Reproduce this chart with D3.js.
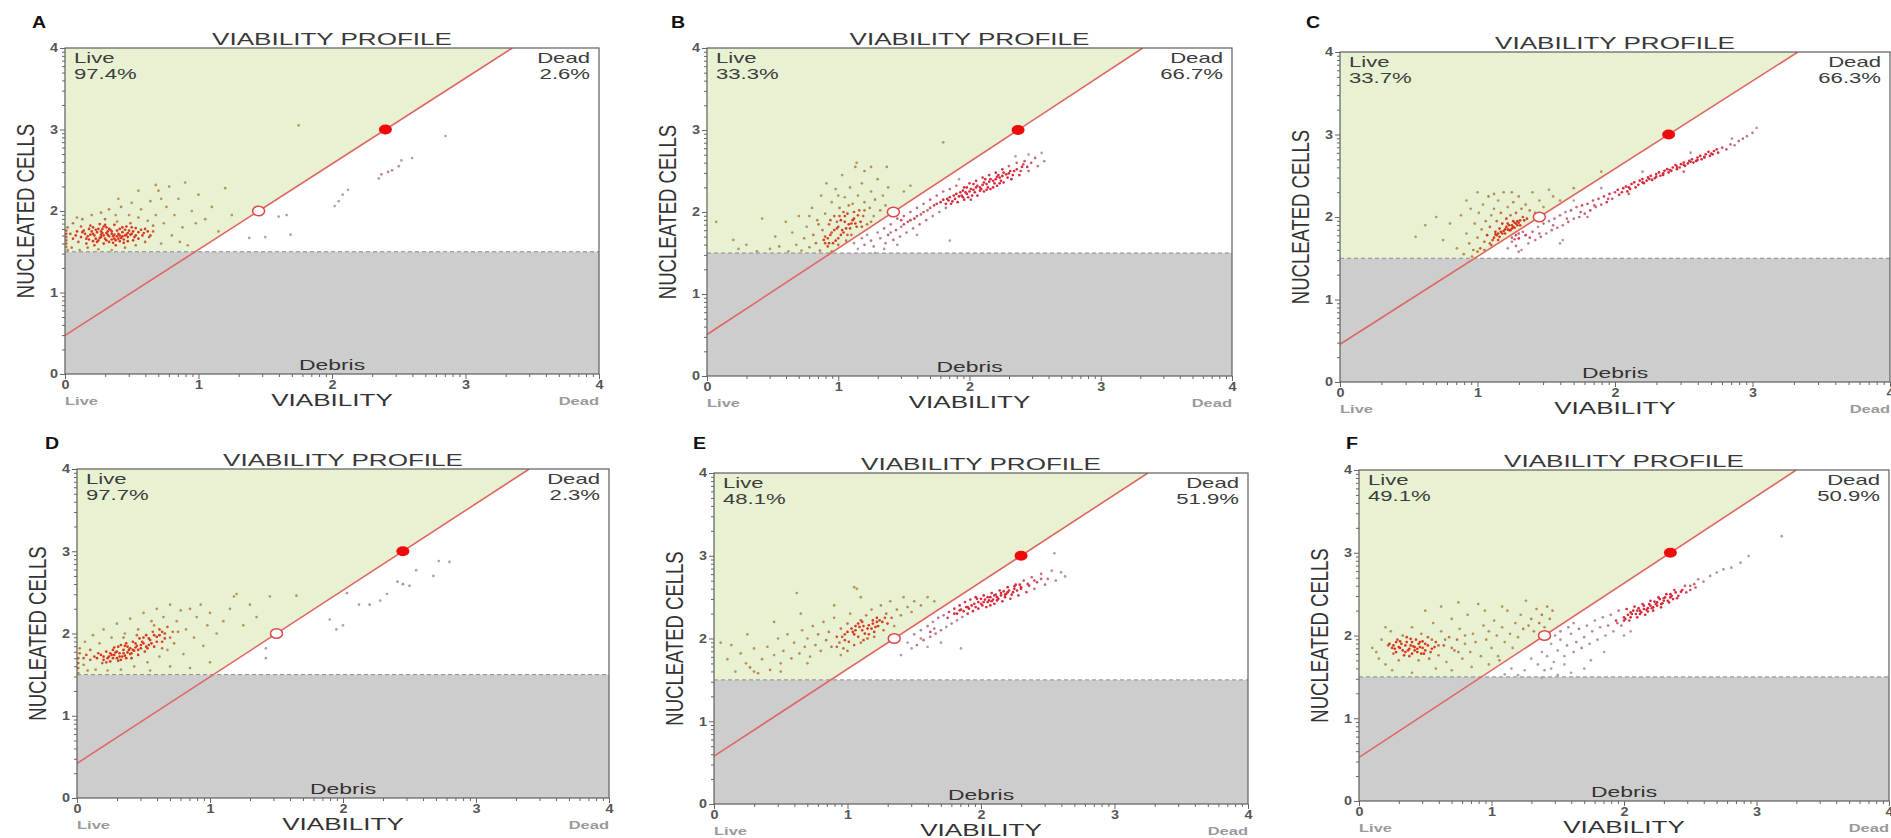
<!DOCTYPE html>
<html>
<head>
<meta charset="utf-8">
<script src="https://cdn.jsdelivr.net/npm/d3@7"></script>
<style>
  body { margin: 0; background: #fff; }
  svg { display: block; font-family: "Liberation Sans", Arial, sans-serif; }
</style>
</head>
<body>
<svg id="chart" width="1891" height="838"></svg>
<script>
// ---- Events: [viability, nucleated cells] (log10 units) ----
const liveA = [[0.12,1.68],[0.15,1.72],[0.18,1.65],[0.2,1.75],[0.22,1.7],[0.24,1.62],[0.25,1.78],[0.27,1.68],[0.28,1.73],[0.3,1.66],[0.31,1.8],[0.32,1.71],[0.33,1.62],[0.35,1.75],[0.36,1.69],[0.37,1.83],[0.38,1.64],[0.4,1.72],[0.41,1.78],[0.42,1.67],[0.43,1.74],[0.45,1.7],[0.46,1.81],[0.47,1.63],[0.48,1.76],[0.5,1.72],[0.52,1.68],[0.53,1.79],[0.55,1.74],[0.34,1.77],[0.29,1.6],[0.26,1.84],[0.39,1.87],[0.44,1.65],[0.21,1.8],[0.16,1.6],[0.49,1.85],[0.58,1.7],[0.6,1.78],[0.19,1.71],[0.23,1.66],[0.36,1.61],[0.4,1.66],[0.32,1.75],[0.28,1.78],[0.46,1.71],[0.51,1.64],[0.14,1.76],[0.1,1.62],[0.08,1.7],[0.17,1.69],[0.21,1.63],[0.24,1.74],[0.26,1.67],[0.29,1.7],[0.31,1.64],[0.33,1.69],[0.35,1.72],[0.37,1.66],[0.39,1.76],[0.41,1.7],[0.43,1.8],[0.44,1.61],[0.47,1.73],[0.3,1.83],[0.22,1.58],[0.18,1.78],[0.38,1.58],[0.5,1.8],[0.27,1.75],[0.13,1.74],[0.16,1.66],[0.19,1.82],[0.21,1.72],[0.23,1.77],[0.25,1.64],[0.27,1.71],[0.29,1.81],[0.31,1.73],[0.33,1.78],[0.35,1.65],[0.37,1.71],[0.39,1.69],[0.41,1.63],[0.43,1.69],[0.45,1.77],[0.47,1.68],[0.49,1.71],[0.51,1.75],[0.53,1.7],[0.55,1.66],[0.57,1.77],[0.59,1.73],[0.62,1.75],[0.64,1.7],[0.66,1.82],[0.12,1.81],[0.09,1.75],[0.06,1.66],[0.04,1.72],[0.01,1.56],[0.01,1.6],[0.01,1.64],[0.01,1.68],[0.01,1.72],[0.01,1.76],[0.02,1.8],[0.02,1.52],[0.05,1.55],[0.06,1.85],[0.09,1.92],[0.11,1.52],[0.13,1.9],[0.17,1.55],[0.2,1.95],[0.25,1.53],[0.27,1.98],[0.3,1.9],[0.33,2.02],[0.35,1.52],[0.38,1.95],[0.42,2.05],[0.45,1.55],[0.48,1.95],[0.5,2.1],[0.53,1.58],[0.55,1.92],[0.57,2.02],[0.6,1.62],[0.62,1.88],[0.64,2.12],[0.66,1.75],[0.68,1.95],[0.7,2.25],[0.72,1.6],[0.74,1.85],[0.76,2.05],[0.78,2.3],[0.8,1.7],[0.82,1.95],[0.85,2.15],[0.88,1.8],[0.9,2.35],[0.92,1.58],[0.95,2.0],[0.98,1.85],[1.0,2.2],[1.05,1.9],[1.1,2.05],[1.15,1.75],[1.2,2.28],[1.25,1.95],[0.72,2.15],[0.63,1.68],[0.86,1.62],[0.55,2.25],[0.4,2.15],[0.68,2.32],[1.75,3.05]];
const deadA = [[1.38,1.67],[1.5,1.68],[1.6,1.93],[1.66,1.95],[1.69,1.71],[2.02,2.06],[2.05,2.12],[2.08,2.2],[2.12,2.26],[2.35,2.4],[2.37,2.45],[2.42,2.48],[2.45,2.5],[2.5,2.55],[2.52,2.62],[2.6,2.65],[2.85,2.92]];

const liveB = [[0.07,1.88],[0.2,1.66],[0.24,1.55],[0.3,1.6],[0.38,1.52],[0.42,1.92],[0.48,1.55],[0.52,1.7],[0.55,1.58],[0.6,1.88],[0.62,1.52],[0.65,1.75],[0.68,1.6],[0.7,1.95],[0.72,1.53],[0.74,1.68],[0.76,1.82],[0.78,1.57],[0.8,2.05],[0.81,1.72],[0.83,1.62],[0.84,1.9],[0.86,1.53],[0.87,2.2],[0.88,1.78],[0.89,1.66],[0.9,1.98],[0.91,2.35],[0.92,1.58],[0.93,1.85],[0.94,1.72],[0.95,2.12],[0.96,1.62],[0.97,1.95],[0.98,2.28],[0.99,1.8],[1.0,1.68],[1.01,2.05],[1.02,1.9],[1.03,2.45],[1.04,1.75],[1.05,2.18],[1.06,1.65],[1.07,1.98],[1.08,1.85],[1.09,2.3],[1.1,1.72],[1.11,2.1],[1.12,1.92],[1.13,2.55],[1.14,1.82],[1.15,2.2],[1.16,2.02],[1.17,1.88],[1.18,2.35],[1.19,1.95],[1.2,2.12],[1.22,1.85],[1.24,2.05],[1.25,2.25],[1.27,1.95],[1.28,2.15],[1.3,2.4],[1.32,2.02],[1.34,2.2],[1.36,2.08],[1.38,2.3],[1.14,2.6],[1.2,2.5],[1.25,2.55],[1.37,2.55],[1.5,2.25],[1.55,2.32],[1.8,2.85],[0.95,1.52],[1.0,1.6],[0.9,1.7],[0.85,1.85],[0.97,1.78],[1.02,1.72],[1.06,1.8],[1.1,1.86],[1.12,2.0],[1.05,1.95],[0.99,1.88],[0.93,1.62],[1.08,2.08],[1.15,1.96],[1.2,2.02],[1.0,2.2],[0.78,1.95],[1.25,1.88],[1.18,1.82],[0.92,1.68],[0.95,1.75],[0.98,1.65],[1.0,1.82],[1.03,1.78],[1.05,1.88],[1.07,1.72],[1.09,1.8],[1.11,1.9],[1.13,1.86],[0.9,1.62],[0.94,1.9],[1.01,1.95],[1.04,2.0]];
const deadB = [[1.12,1.62],[1.15,1.55],[1.18,1.68],[1.2,1.6],[1.22,1.72],[1.25,1.65],[1.27,1.58],[1.3,1.75],[1.32,1.68],[1.35,1.8],[1.36,1.62],[1.38,1.72],[1.4,1.85],[1.42,1.66],[1.44,1.78],[1.45,1.92],[1.47,1.7],[1.48,1.82],[1.5,1.95],[1.52,1.75],[1.53,1.88],[1.55,2.0],[1.57,1.8],[1.58,1.92],[1.6,2.05],[1.62,1.85],[1.63,1.97],[1.65,2.1],[1.67,1.9],[1.68,2.02],[1.7,2.15],[1.72,1.95],[1.73,2.08],[1.75,2.2],[1.77,2.0],[1.78,2.12],[1.8,2.25],[1.82,2.05],[1.83,2.16],[1.85,2.28],[1.86,2.1],[1.88,2.2],[1.9,2.32],[1.91,2.12],[1.93,2.24],[1.95,2.18],[1.96,2.3],[1.98,2.22],[2.0,2.35],[2.01,2.15],[2.03,2.27],[2.05,2.38],[2.06,2.2],[2.08,2.3],[2.1,2.42],[2.11,2.25],[2.13,2.34],[2.15,2.45],[2.16,2.28],[2.18,2.38],[2.2,2.48],[2.21,2.32],[2.23,2.42],[2.25,2.52],[2.26,2.36],[2.28,2.46],[2.3,2.56],[2.32,2.4],[2.34,2.5],[2.36,2.6],[2.38,2.45],[2.4,2.55],[2.42,2.62],[2.45,2.5],[2.47,2.6],[2.5,2.66],[2.52,2.56],[2.55,2.72],[2.57,2.62],[1.9,2.22],[1.95,2.26],[2.0,2.25],[2.05,2.3],[2.1,2.33],[2.15,2.37],[2.2,2.4],[2.25,2.44],[2.3,2.47],[1.98,2.3],[2.08,2.26],[2.12,2.4],[2.18,2.3],[2.22,2.45],[2.02,2.2],[1.85,2.18],[1.8,2.15],[1.75,2.1],[1.7,2.05],[1.65,2.0],[1.6,1.95],[1.55,1.9],[1.5,1.85],[1.85,1.65],[1.28,1.5],[1.35,1.55],[1.45,1.6],[1.6,1.72],[1.92,2.4],[2.35,2.68],[2.45,2.7],[1.4,1.75],[1.48,1.9],[1.82,2.1],[1.84,2.14],[1.87,2.13],[1.89,2.16],[1.92,2.19],[1.94,2.2],[1.97,2.24],[1.99,2.18],[2.01,2.28],[2.04,2.24],[2.06,2.32],[2.09,2.28],[2.11,2.36],[2.14,2.3],[2.16,2.4],[2.19,2.35],[2.21,2.43],[2.24,2.38],[2.26,2.48],[2.29,2.42],[2.31,2.5],[2.33,2.45],[2.36,2.52],[2.39,2.5],[2.41,2.58],[2.44,2.55],[2.03,2.34],[2.13,2.27],[2.23,2.35],[1.96,2.15]];

const liveC = [[0.55,1.76],[0.62,1.9],[0.75,1.72],[0.8,1.92],[0.85,1.62],[0.88,2.02],[0.9,1.55],[0.92,1.8],[0.94,1.68],[0.95,2.1],[0.97,1.6],[0.98,1.92],[1.0,1.75],[1.01,2.05],[1.02,1.62],[1.03,1.85],[1.04,2.15],[1.05,1.7],[1.06,1.95],[1.07,1.78],[1.08,2.25],[1.09,1.88],[1.1,2.02],[1.11,1.72],[1.12,2.1],[1.13,1.82],[1.14,1.95],[1.15,2.2],[1.16,1.86],[1.17,2.05],[1.18,1.92],[1.19,2.3],[1.2,1.8],[1.21,1.98],[1.22,2.12],[1.23,1.84],[1.24,2.02],[1.25,1.9],[1.26,2.18],[1.27,1.87],[1.28,2.05],[1.29,1.95],[1.3,2.25],[1.31,1.9],[1.32,2.1],[1.33,2.0],[1.35,2.15],[1.36,1.98],[1.38,2.08],[1.4,2.3],[1.42,2.05],[1.45,2.2],[1.48,2.12],[1.52,2.33],[1.55,2.25],[1.6,2.2],[1.7,2.35],[1.9,2.55],[1.15,1.72],[1.1,1.66],[1.05,1.6],[1.0,1.58],[0.96,1.52],[1.18,1.8],[1.22,1.85],[1.26,1.88],[1.24,1.84],[1.28,1.92],[1.3,1.93],[1.2,1.85],[1.14,1.78],[1.12,1.75],[1.34,1.96],[1.09,1.68],[1.16,1.76],[0.7,2.0],[0.92,2.2],[1.0,2.3],[1.12,2.28],[1.25,2.3],[1.19,1.83],[1.21,1.88],[1.23,1.9],[1.25,1.86],[1.27,1.93],[1.29,1.9],[1.31,1.96],[1.17,1.82],[1.15,1.8],[1.13,1.79],[1.26,1.95],[1.22,1.92]];
const deadC = [[1.22,1.62],[1.25,1.7],[1.28,1.65],[1.3,1.74],[1.32,1.6],[1.35,1.78],[1.37,1.68],[1.4,1.82],[1.42,1.72],[1.44,1.88],[1.46,1.76],[1.48,1.92],[1.5,1.8],[1.52,1.95],[1.54,1.84],[1.56,1.98],[1.58,1.87],[1.6,2.02],[1.62,1.9],[1.64,2.06],[1.66,1.94],[1.68,2.08],[1.7,1.98],[1.72,2.12],[1.74,2.0],[1.76,2.14],[1.78,2.04],[1.8,2.16],[1.82,2.08],[1.84,2.2],[1.86,2.12],[1.88,2.22],[1.9,2.15],[1.92,2.25],[1.94,2.18],[1.96,2.28],[1.98,2.22],[2.0,2.3],[2.03,2.27],[2.06,2.35],[2.09,2.31],[2.12,2.4],[2.15,2.36],[2.18,2.44],[2.21,2.41],[2.24,2.48],[2.27,2.45],[2.3,2.52],[2.33,2.5],[2.36,2.56],[2.39,2.54],[2.42,2.6],[2.45,2.58],[2.48,2.64],[2.51,2.62],[2.54,2.68],[2.57,2.66],[2.6,2.72],[2.63,2.7],[2.66,2.76],[2.69,2.74],[2.72,2.8],[2.75,2.78],[2.78,2.84],[2.81,2.82],[2.84,2.88],[2.87,2.87],[2.9,2.92],[2.93,2.95],[2.96,2.98],[3.0,3.02],[3.03,3.08],[2.4,2.57],[2.45,2.61],[2.5,2.63],[2.55,2.67],[2.6,2.69],[2.65,2.73],[2.7,2.77],[2.35,2.53],[2.3,2.49],[2.25,2.46],[2.2,2.42],[2.1,2.36],[1.95,2.22],[1.85,2.14],[1.75,2.06],[1.65,1.98],[1.55,1.9],[1.45,1.8],[1.38,1.75],[1.6,1.68],[1.62,1.72],[1.3,1.58],[1.7,2.2],[1.9,2.35],[2.2,2.55],[2.55,2.78],[2.85,2.95],[2.5,2.55],[2.1,2.28],[1.8,2.0],[2.02,2.33],[2.05,2.3],[2.08,2.37],[2.11,2.34],[2.14,2.42],[2.17,2.39],[2.2,2.46],[2.23,2.44],[2.26,2.5],[2.29,2.47],[2.32,2.54],[2.35,2.51],[2.38,2.58],[2.41,2.56],[2.44,2.63],[2.47,2.6],[2.5,2.66],[2.53,2.65],[2.56,2.7],[2.59,2.68],[2.62,2.74],[2.65,2.72],[2.68,2.79],[2.71,2.76],[2.74,2.82],[1.25,1.75],[1.28,1.78],[1.3,1.8],[1.33,1.82],[1.27,1.73]];

const liveD = [[0.15,1.7],[0.18,1.74],[0.2,1.68],[0.22,1.78],[0.24,1.72],[0.25,1.66],[0.27,1.8],[0.28,1.74],[0.3,1.7],[0.31,1.84],[0.32,1.76],[0.33,1.68],[0.35,1.8],[0.36,1.73],[0.37,1.88],[0.38,1.77],[0.4,1.82],[0.41,1.7],[0.42,1.9],[0.43,1.79],[0.45,1.85],[0.46,1.74],[0.47,1.94],[0.48,1.82],[0.5,1.88],[0.51,1.78],[0.52,1.98],[0.54,1.86],[0.55,1.92],[0.57,2.02],[0.58,1.84],[0.6,1.96],[0.62,2.05],[0.64,1.9],[0.66,2.0],[0.68,2.08],[0.7,1.95],[0.72,2.02],[0.29,1.77],[0.34,1.72],[0.39,1.8],[0.44,1.83],[0.26,1.74],[0.23,1.7],[0.36,1.85],[0.49,1.9],[0.53,1.82],[0.31,1.67],[0.19,1.64],[0.41,1.76],[0.16,1.76],[0.2,1.72],[0.22,1.65],[0.25,1.76],[0.27,1.7],[0.28,1.83],[0.3,1.78],[0.32,1.72],[0.33,1.86],[0.35,1.76],[0.37,1.7],[0.38,1.84],[0.4,1.75],[0.42,1.8],[0.44,1.88],[0.46,1.8],[0.48,1.86],[0.5,1.95],[0.52,1.84],[0.54,1.94],[0.56,1.88],[0.58,1.98],[0.6,1.9],[0.62,1.98],[0.64,2.02],[0.66,1.94],[0.13,1.72],[0.1,1.68],[0.07,1.74],[0.05,1.7],[0.01,1.58],[0.01,1.64],[0.01,1.7],[0.02,1.76],[0.02,1.82],[0.01,1.52],[0.05,1.62],[0.06,1.9],[0.08,1.55],[0.1,1.8],[0.12,1.98],[0.14,1.56],[0.17,1.88],[0.2,2.05],[0.23,1.55],[0.26,1.95],[0.3,2.12],[0.33,1.56],[0.36,2.0],[0.4,2.18],[0.43,1.6],[0.46,2.05],[0.5,2.25],[0.53,1.65],[0.56,2.15],[0.6,2.3],[0.62,1.72],[0.65,2.2],[0.68,1.8],[0.7,2.35],[0.73,1.88],[0.75,2.15],[0.78,2.28],[0.8,1.75],[0.82,2.05],[0.85,2.3],[0.88,1.95],[0.9,2.2],[0.93,2.35],[0.95,1.85],[0.98,2.1],[1.0,2.25],[1.05,2.0],[1.1,2.15],[1.15,2.3],[1.2,2.48],[1.25,2.1],[1.3,2.35],[1.35,2.2],[1.45,2.45],[1.65,2.46],[1.18,2.45],[0.55,1.55],[0.7,1.6],[0.85,1.58],[1.0,1.65],[0.76,2.02],[0.64,1.82],[0.58,2.1],[0.45,1.98],[0.35,1.95]];
const deadD = [[1.42,1.82],[1.42,1.7],[1.9,2.17],[1.95,2.05],[2.0,2.1],[2.03,2.49],[2.12,2.35],[2.2,2.35],[2.28,2.4],[2.33,2.48],[2.41,2.63],[2.45,2.6],[2.5,2.58],[2.55,2.77],[2.68,2.7],[2.72,2.88],[2.8,2.87]];

const liveE = [[0.05,1.95],[0.1,1.75],[0.13,1.92],[0.16,1.6],[0.2,1.82],[0.24,1.7],[0.27,1.65],[0.3,1.88],[0.33,1.58],[0.36,1.75],[0.4,1.9],[0.42,1.62],[0.45,1.8],[0.48,2.0],[0.5,1.7],[0.52,1.85],[0.55,2.05],[0.58,1.76],[0.6,1.95],[0.62,2.55],[0.64,1.82],[0.66,2.1],[0.68,1.9],[0.7,2.0],[0.72,1.78],[0.74,2.15],[0.76,1.92],[0.78,2.05],[0.8,1.85],[0.82,2.2],[0.84,1.98],[0.86,2.08],[0.88,1.9],[0.9,2.25],[0.92,2.02],[0.94,1.95],[0.95,2.12],[0.97,1.88],[0.98,2.05],[1.0,2.18],[1.01,1.96],[1.02,2.3],[1.04,2.08],[1.05,1.92],[1.06,2.15],[1.07,2.6],[1.08,2.02],[1.1,2.22],[1.11,2.1],[1.12,1.98],[1.14,2.28],[1.15,2.12],[1.16,2.05],[1.18,2.35],[1.19,2.18],[1.2,2.08],[1.22,2.25],[1.23,2.15],[1.25,2.4],[1.26,2.2],[1.27,2.1],[1.29,2.3],[1.3,2.18],[1.32,2.45],[1.33,2.25],[1.35,2.15],[1.37,2.35],[1.4,2.28],[1.42,2.5],[1.45,2.38],[1.48,2.32],[1.5,2.45],[1.55,2.4],[1.6,2.5],[1.65,2.45],[1.1,2.5],[0.9,2.4],[0.65,2.3],[0.45,2.2],[0.25,2.05],[1.05,2.62],[0.95,1.8],[1.0,1.85],[1.1,1.95],[1.15,2.0],[1.2,2.02],[1.05,2.05],[1.12,2.15],[1.18,2.12],[1.22,2.2],[0.98,1.98],[0.92,1.9],[1.28,2.25],[0.3,1.6],[0.5,1.6],[0.7,1.7],[1.0,2.08],[1.03,2.12],[1.06,2.1],[1.09,2.14],[1.11,2.2],[1.13,2.06],[1.16,2.16],[1.19,2.22],[1.21,2.14],[1.24,2.22],[1.08,2.18],[0.96,2.02]];
const deadE = [[1.4,1.8],[1.45,1.95],[1.48,1.88],[1.5,2.05],[1.52,1.92],[1.55,2.1],[1.57,1.98],[1.6,2.15],[1.62,2.02],[1.64,2.2],[1.66,2.06],[1.68,2.25],[1.7,2.1],[1.72,2.28],[1.74,2.14],[1.76,2.32],[1.78,2.18],[1.8,2.36],[1.82,2.22],[1.84,2.4],[1.86,2.26],[1.88,2.44],[1.9,2.3],[1.92,2.47],[1.94,2.33],[1.96,2.5],[1.98,2.36],[2.0,2.42],[2.02,2.52],[2.04,2.38],[2.06,2.46],[2.08,2.55],[2.1,2.42],[2.12,2.5],[2.14,2.58],[2.16,2.45],[2.18,2.53],[2.2,2.62],[2.22,2.48],[2.24,2.56],[2.26,2.65],[2.28,2.52],[2.3,2.6],[2.32,2.7],[2.34,2.56],[2.36,2.64],[2.38,2.74],[2.4,2.6],[2.42,2.68],[2.45,2.78],[2.48,2.65],[2.5,2.72],[2.53,2.82],[2.56,2.7],[2.6,2.8],[2.63,2.75],[2.55,3.03],[1.85,1.88],[1.7,1.95],[1.6,1.9],[2.0,2.48],[2.05,2.5],[2.1,2.52],[2.15,2.55],[2.2,2.56],[2.25,2.6],[2.3,2.62],[1.95,2.42],[1.9,2.38],[1.85,2.35],[1.8,2.3],[2.08,2.45],[2.12,2.46],[2.18,2.5],[2.02,2.44],[1.75,2.25],[1.65,2.12],[2.35,2.66],[2.4,2.7],[2.45,2.72],[1.55,2.0],[1.62,2.08],[1.82,2.3],[1.84,2.34],[1.87,2.33],[1.89,2.38],[1.91,2.36],[1.93,2.4],[1.96,2.38],[1.98,2.44],[2.01,2.4],[2.03,2.47],[2.05,2.44],[2.07,2.5],[2.09,2.47],[2.11,2.53],[2.13,2.48],[2.15,2.52],[2.17,2.57],[2.19,2.54],[2.21,2.58],[2.23,2.53],[2.25,2.63],[2.27,2.58],[2.29,2.65],[1.97,2.48],[2.07,2.4]];

const liveF = [[0.1,1.85],[0.13,1.8],[0.15,1.72],[0.17,1.95],[0.2,1.65],[0.22,1.88],[0.24,2.05],[0.26,1.78],[0.28,1.92],[0.3,1.7],[0.31,1.85],[0.33,2.0],[0.35,1.8],[0.36,1.92],[0.38,1.75],[0.39,1.88],[0.4,2.1],[0.42,1.82],[0.43,1.95],[0.45,1.7],[0.46,1.86],[0.47,2.02],[0.49,1.78],[0.5,1.9],[0.52,1.98],[0.53,1.72],[0.55,1.84],[0.56,2.15],[0.58,1.92],[0.6,1.76],[0.62,2.05],[0.64,1.88],[0.66,1.68],[0.68,1.98],[0.7,2.2],[0.72,1.82],[0.74,1.95],[0.76,2.08],[0.78,1.72],[0.8,1.9],[0.82,2.25],[0.84,1.8],[0.86,2.02],[0.88,1.92],[0.9,2.38],[0.92,1.75],[0.94,2.12],[0.96,1.95],[0.98,2.05],[1.0,1.85],[1.02,2.18],[1.04,2.0],[1.06,1.7],[1.08,2.1],[1.1,1.92],[1.12,2.3],[1.14,2.02],[1.16,1.85],[1.18,2.15],[1.2,1.98],[1.22,2.25],[1.24,2.08],[1.26,2.42],[1.28,2.12],[1.3,2.2],[1.32,2.05],[1.34,2.32],[1.36,2.15],[1.38,2.25],[1.4,2.1],[1.42,2.35],[1.44,2.2],[1.46,2.3],[0.25,1.85],[0.32,1.9],[0.37,1.82],[0.41,1.87],[0.44,1.8],[0.48,1.93],[0.34,1.76],[0.29,1.95],[0.27,1.84],[0.4,1.78],[0.45,1.9],[0.5,1.82],[0.36,1.98],[0.55,1.95],[0.6,1.88],[0.65,1.95],[0.7,1.85],[0.75,1.8],[0.8,2.0],[0.58,1.6],[0.7,1.58],[0.85,1.62],[0.4,1.55],[0.25,1.58],[0.5,2.3],[0.62,2.35],[0.75,2.4],[0.95,2.3],[1.08,2.35],[0.2,2.1],[1.05,1.75],[0.98,1.65],[0.26,1.88],[0.28,1.8],[0.3,1.86],[0.33,1.82],[0.35,1.88],[0.38,1.84],[0.4,1.92],[0.42,1.86],[0.44,1.84],[0.46,1.92],[0.48,1.85],[0.52,1.88],[0.54,1.8],[0.57,1.86],[0.31,1.93],[0.39,1.96],[0.47,1.78],[0.23,1.9]];
const deadF = [[1.3,1.72],[1.35,1.65],[1.38,1.8],[1.4,1.58],[1.42,1.75],[1.45,1.9],[1.47,1.68],[1.5,1.82],[1.52,1.95],[1.55,1.75],[1.57,1.88],[1.6,2.02],[1.62,1.8],[1.64,1.92],[1.66,2.08],[1.68,1.85],[1.7,1.98],[1.72,2.12],[1.74,1.9],[1.76,2.05],[1.78,2.18],[1.8,1.95],[1.82,2.1],[1.84,2.22],[1.86,2.0],[1.88,2.12],[1.9,2.25],[1.92,2.05],[1.94,2.18],[1.96,2.3],[1.98,2.12],[2.0,2.22],[2.02,2.32],[2.04,2.18],[2.06,2.26],[2.08,2.35],[2.1,2.22],[2.12,2.3],[2.14,2.38],[2.16,2.25],[2.18,2.33],[2.2,2.42],[2.22,2.3],[2.24,2.38],[2.26,2.46],[2.28,2.34],[2.3,2.42],[2.32,2.5],[2.34,2.4],[2.36,2.48],[2.38,2.55],[2.4,2.45],[2.43,2.53],[2.46,2.6],[2.5,2.55],[2.53,2.62],[2.56,2.68],[2.6,2.65],[2.65,2.72],[2.7,2.76],[2.75,2.8],[2.81,2.82],[2.88,2.88],[2.94,2.96],[3.19,3.2],[2.05,2.28],[2.1,2.3],[2.15,2.32],[2.2,2.36],[2.25,2.4],[2.3,2.45],[2.35,2.46],[2.12,2.26],[2.18,2.29],[2.22,2.34],[2.28,2.38],[2.0,2.18],[1.95,2.15],[1.1,1.53],[1.2,1.52],[1.38,1.49],[1.5,1.52],[1.6,1.55],[1.7,1.6],[1.45,1.6],[1.25,1.58],[1.15,1.6],[1.55,1.65],[1.75,1.7],[1.85,1.8],[2.0,2.0],[2.05,2.05],[1.62,2.15],[1.58,2.1],[1.52,2.05],[1.48,2.0],[2.01,2.2],[2.03,2.25],[2.05,2.22],[2.07,2.3],[2.09,2.26],[2.11,2.33],[2.13,2.28],[2.15,2.36],[2.17,2.31],[2.19,2.38],[2.21,2.33],[2.23,2.41],[2.25,2.36],[2.27,2.44],[2.29,2.39],[2.31,2.46],[2.33,2.42],[2.35,2.5],[2.37,2.44],[2.39,2.52],[2.41,2.48],[2.44,2.55],[2.47,2.52],[2.5,2.6],[2.54,2.58]];

// ---- Panel summaries ----
const panelIds = ["A", "B", "C", "D", "E", "F"];
const livePct = ["97.4%", "33.3%", "33.7%", "97.7%", "48.1%", "49.1%"];
const deadPct = ["2.6%", "66.7%", "66.3%", "2.3%", "51.9%", "50.9%"];
// live/dead gate: open handle and filled handle define the boundary line
const gateOpen = [[1.45, 2], [1.42, 2], [1.45, 2], [1.50, 2], [1.35, 2], [1.40, 2]];
const gateFilled = [[2.40, 3], [2.37, 3], [2.39, 3], [2.45, 3], [2.30, 3], [2.35, 3]];
const debrisCut = 1.5;
const majorTicks = [0, 1, 2, 3, 4];
const liveEvents = [liveA, liveB, liveC, liveD, liveE, liveF];
const deadEvents = [deadA, deadB, deadC, deadD, deadE, deadF];

// ---- Layout of each panel on the page ----
const frames = [
  { x0: 65,   x4: 599,  top: 48,  bottom: 374, lx: 32,   ly: 28 },
  { x0: 707,  x4: 1232, top: 48,  bottom: 376, lx: 671,  ly: 28 },
  { x0: 1340, x4: 1890, top: 52,  bottom: 382, lx: 1306, ly: 28 },
  { x0: 77,   x4: 609,  top: 469, bottom: 798, lx: 45,   ly: 449 },
  { x0: 714,  x4: 1248, top: 473, bottom: 804, lx: 693,  ly: 449 },
  { x0: 1359, x4: 1889, top: 470, bottom: 801, lx: 1346, ly: 449 }
];

const SX = 1.58; // horizontal stretch of the exported figure text
const svg = d3.select("#chart");

function stretchText(g, x, y, str, o) {
  const t = g.append("text")
    .attr("transform", `translate(${x},${y})` + (o.rotate ? ` rotate(${o.rotate})` : "") + ` scale(${o.sx ?? SX},${o.sy ?? 1})`)
    .attr("text-anchor", o.anchor || "start")
    .attr("font-size", o.size)
    .attr("font-weight", o.weight || "normal")
    .attr("fill", o.fill || "#333")
    .text(str);
  if (o.dy) t.attr("dy", o.dy);
  return t;
}

// log-decade minor tick positions
const minorTicks = d3.range(0, 4).flatMap(n => d3.range(2, 10).map(k => n + Math.log10(k)));

function densityColors(pts, sparse, dense) {
  const mix = d3.interpolateRgb(sparse, dense);
  return pts.map(p => {
    const n = pts.filter(q => Math.abs(q[0] - p[0]) < 0.09 && Math.abs(q[1] - p[1]) < 0.07).length;
    return mix(Math.min(1, Math.max(0, (n - 2) / 8)));
  });
}

panelIds.forEach((id, i) => {
  const f = frames[i];
  const x = d3.scaleLinear().domain([0, 4]).range([f.x0, f.x4]);
  const y = d3.scaleLinear().domain([0, 4]).range([f.bottom, f.top]);
  const g = svg.append("g");
  const clipId = "clip" + id;
  g.append("clipPath").attr("id", clipId)
    .append("rect").attr("x", f.x0).attr("y", f.top).attr("width", f.x4 - f.x0).attr("height", f.bottom - f.top);

  // gate line through the two handles
  const [ox, oy] = gateOpen[i], [fx, fy] = gateFilled[i];
  const m = (fy - oy) / (fx - ox), b = oy - m * ox;
  const xAt = v => (v - b) / m;

  const plot = g.append("g").attr("clip-path", `url(#${clipId})`);
  plot.append("rect").attr("x", x(0)).attr("y", y(4)).attr("width", x(4) - x(0)).attr("height", y(0) - y(4)).attr("fill", "#ffffff");
  plot.append("rect").attr("x", x(0)).attr("y", y(debrisCut)).attr("width", x(4) - x(0)).attr("height", y(0) - y(debrisCut)).attr("fill", "#cdcdcd");
  const livePoly = [[0, debrisCut], [xAt(debrisCut), debrisCut], [xAt(4), 4], [0, 4]];
  plot.append("path").attr("d", d3.line().x(d => x(d[0])).y(d => y(d[1]))(livePoly) + "Z").attr("fill", "#e8f2d3");
  plot.append("line").attr("x1", x(0)).attr("x2", x(4)).attr("y1", y(debrisCut)).attr("y2", y(debrisCut))
    .attr("stroke", "#8a8a8a").attr("stroke-width", 1).attr("stroke-dasharray", "4,3");

  // events, coloured by local density
  const lc = densityColors(liveEvents[i], "#b6955a", "#d8361e");
  plot.append("g").selectAll("circle").data(liveEvents[i]).join("circle")
    .attr("cx", d => x(d[0])).attr("cy", d => y(d[1])).attr("r", 1.35)
    .attr("fill", (d, k) => lc[k]);
  const dc = densityColors(deadEvents[i], "#b29ea8", "#d82a3c");
  plot.append("g").selectAll("circle").data(deadEvents[i]).join("circle")
    .attr("cx", d => x(d[0])).attr("cy", d => y(d[1])).attr("r", 1.35)
    .attr("fill", (d, k) => dc[k]);

  plot.append("line").attr("x1", x(0)).attr("y1", y(b)).attr("x2", x(xAt(4))).attr("y2", y(4))
    .attr("stroke", "#e06562").attr("stroke-width", 1.6);
  plot.append("ellipse").attr("cx", x(ox)).attr("cy", y(oy)).attr("rx", 6).attr("ry", 4.8)
    .attr("fill", "#fff").attr("stroke", "#d9484a").attr("stroke-width", 1.5);
  plot.append("ellipse").attr("cx", x(fx)).attr("cy", y(fy)).attr("rx", 6.5).attr("ry", 5)
    .attr("fill", "#ee0a0a");

  // frame
  g.append("rect").attr("x", x(0)).attr("y", y(4)).attr("width", x(4) - x(0)).attr("height", y(0) - y(4))
    .attr("fill", "none").attr("stroke", "#5e5e5e").attr("stroke-width", 1.2);

  // axes
  const yMinor = g.append("g").attr("transform", `translate(${x(0)},0)`)
    .call(d3.axisLeft(y).tickValues(minorTicks).tickSize(3).tickFormat(""));
  const yMajor = g.append("g").attr("transform", `translate(${x(0)},0)`)
    .call(d3.axisLeft(y).tickValues(majorTicks).tickSize(5).tickPadding(2).tickFormat(d3.format("d")));
  const xMinor = g.append("g").attr("transform", `translate(0,${y(0)})`)
    .call(d3.axisBottom(x).tickValues(minorTicks).tickSize(3).tickFormat(""));
  const xMajor = g.append("g").attr("transform", `translate(0,${y(0)})`)
    .call(d3.axisBottom(x).tickValues(majorTicks).tickSize(5).tickPadding(1).tickFormat(d3.format("d")));
  [yMinor, yMajor, xMinor, xMajor].forEach(a => {
    a.select(".domain").remove();
    a.selectAll("line").attr("stroke", "#666");
    a.selectAll("text").attr("fill", "#555").attr("font-size", 12).attr("font-weight", "bold")
      .attr("font-family", "\"Liberation Sans\", Arial, sans-serif");
  });
  xMajor.selectAll("text").attr("transform", "scale(1.2,1)").attr("x", 0);
  yMajor.selectAll("text").attr("transform", "scale(1.2,1)").attr("x", -7 / 1.2);

  // texts
  const mid = (x(0) + x(4)) / 2;
  stretchText(g, f.lx, f.ly, id, { size: 17, weight: "bold", fill: "#111", sx: 1.15 });
  stretchText(g, mid, y(4) - 3, "VIABILITY PROFILE", { size: 16.5, anchor: "middle", fill: "#383838" });
  stretchText(g, x(0) + 9, y(4) + 15, "Live", { size: 14, fill: "#3c3c3c" });
  stretchText(g, x(0) + 9, y(4) + 31, livePct[i], { size: 14, fill: "#3c3c3c" });
  stretchText(g, x(4) - 9, y(4) + 15, "Dead", { size: 14, anchor: "end", fill: "#3c3c3c" });
  stretchText(g, x(4) - 9, y(4) + 31, deadPct[i], { size: 14, anchor: "end", fill: "#3c3c3c" });
  stretchText(g, mid, y(0) - 4, "Debris", { size: 14.5, anchor: "middle", fill: "#333" });
  stretchText(g, mid, y(0) + 32, "VIABILITY", { size: 16.5, anchor: "middle", fill: "#333" });
  stretchText(g, x(0), y(0) + 31, "Live", { size: 11, weight: "bold", fill: "#9a9a9a", sx: 1.5 });
  stretchText(g, x(4), y(0) + 31, "Dead", { size: 11, weight: "bold", anchor: "end", fill: "#9a9a9a", sx: 1.5 });
  stretchText(g, x(0) - 40, (y(0) + y(4)) / 2, "NUCLEATED CELLS",
    { size: 18.5, anchor: "middle", fill: "#333", rotate: -90, sx: 1.0, sy: 1.28, dy: "0.36em" });
});
</script>
</body>
</html>
